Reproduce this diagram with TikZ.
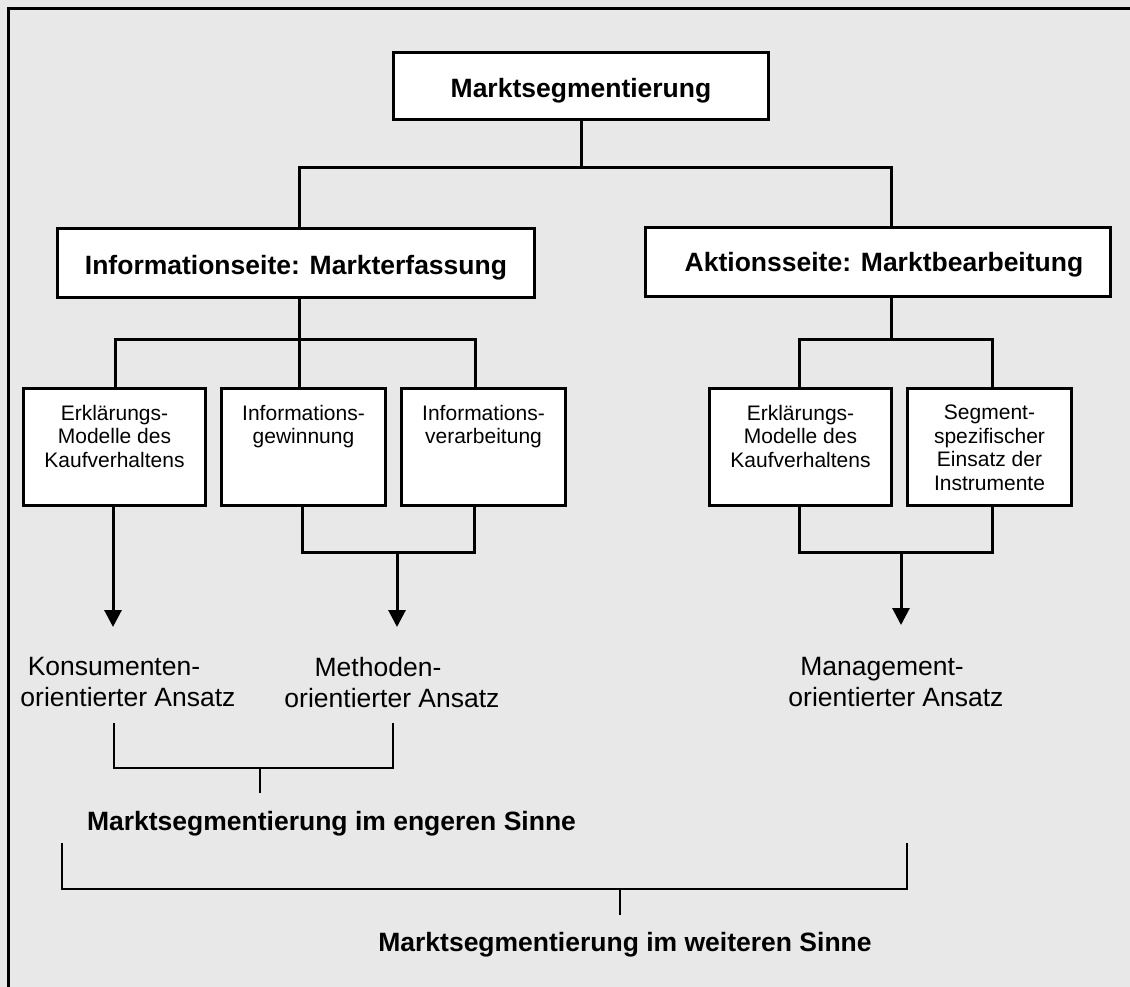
\documentclass[tikz,border=0pt]{standalone}
\usepackage{fontspec}
\setmainfont{Liberation Sans}
\usetikzlibrary{arrows.meta}
\definecolor{panel}{HTML}{E8E8E8}
\begin{document}
\begin{tikzpicture}[x=1pt,y=-1pt,
  box/.style={draw, line width=3pt, fill=white, inner sep=0pt},
  conn/.style={line width=3pt},
  brk/.style={line width=2.5pt},
  arr/.style={line width=3pt, -{Triangle[width=17pt,length=17pt]}},
  headtext/.style={font=\fontsize{26.5}{31}\selectfont\bfseries, inner sep=0pt},
  boxtext/.style={font=\fontsize{21}{23.5}\selectfont, align=center, inner sep=0pt, anchor=north},
  apptext/.style={font=\fontsize{26.5}{31}\selectfont, align=center, inner sep=0pt, anchor=north},
]
\useasboundingbox (0,0) rectangle (1130,987);
\fill[panel] (0,0) rectangle (1130,987);
\draw[line width=3pt] (8.5,987) -- (8.5,8.5) -- (1130,8.5);

% top level
\node[box, minimum width=375pt, minimum height=67pt] (top) at (581,86) {};
\node[headtext, anchor=base] (toptxt) at (581,98) {Marktsegmentierung};

% second level
\node[box, minimum width=477pt, minimum height=69pt] (info) at (296,263) {};
\node[headtext, anchor=base] (infotxt) at (296,274) {Informationseite: Markterfassung};
\node[box, minimum width=465pt, minimum height=69pt] (akt) at (878,262) {};
\node[headtext, anchor=base] (akttxt) at (884,272) {Aktionsseite: Marktbearbeitung};

% third level
\node[box, minimum width=182pt, minimum height=117pt] (A) at (114.5,447) {};
\node[box, minimum width=164pt, minimum height=117pt] (B) at (303.5,447) {};
\node[box, minimum width=164pt, minimum height=117pt] (C) at (483.5,447) {};
\node[box, minimum width=182pt, minimum height=117pt] (D) at (800.5,447) {};
\node[box, minimum width=164pt, minimum height=117pt] (E) at (989.5,447) {};
\node[boxtext] (Atxt) at (114.5,405) {Erklärungs-\\Modelle des\\Kaufverhaltens};
\node[boxtext] (Btxt) at (303.5,405) {Informations-\\gewinnung};
\node[boxtext] (Ctxt) at (483.5,405) {Informations-\\verarbeitung};
\node[boxtext] (Dtxt) at (800.5,405) {Erklärungs-\\Modelle des\\Kaufverhaltens};
\node[boxtext] (Etxt) at (989.5,405) {Segment-\\spezifischer\\Einsatz der\\Instrumente};

% approaches
\node[apptext] (kons) at (128,657) {Konsumenten-\hspace*{28pt}\\orientierter Ansatz};
\node[apptext] (meth) at (392,657) {Methoden-\hspace*{28pt}\\orientierter Ansatz};
\node[apptext] (mgmt) at (896,657) {Management-\hspace*{28pt}\\orientierter Ansatz};

% summary labels
\node[headtext, anchor=base] (eng) at (331.5,830) {Marktsegmentierung im engeren Sinne};
\node[headtext, anchor=base] (wei) at (625,951) {Marktsegmentierung im weiteren Sinne};

% junction points
\coordinate (jl) at (299,168);
\coordinate (jr) at (891,168);
\coordinate (ia) at (299,339);
\coordinate (ga) at (115,339);
\coordinate (gc) at (475,339);
\coordinate (ra) at (891,339);
\coordinate (gd) at (799,339);
\coordinate (ge) at (992,339);
\coordinate (mb) at (302,552);
\coordinate (mc) at (474,552);
\coordinate (mm) at (397,552);
\coordinate (mt) at (397,627);
\coordinate (ka) at (113,627);
\coordinate (nd) at (799,552);
\coordinate (ne) at (992,552);
\coordinate (nm) at (901,552);
\coordinate (nt) at (901,625);

% tree connectors
\draw[conn] (top.south) -- (top.south |- jl);
\draw[conn] (info.north -| jl) -- (jl) -- (jr) -- (akt.north -| jr);
\draw[conn] (info.south -| ia) -- (ia);
\draw[conn] (A.north -| ga) -- (ga) -- (gc) -- (C.north -| gc);
\draw[conn] (B.north -| ia) -- (ia);
\draw[conn] (akt.south -| ra) -- (ra);
\draw[conn] (D.north -| gd) -- (gd) -- (ge) -- (E.north -| ge);

% lower connectors and arrows
\draw[arr] (A.south -| ka) -- (ka);
\draw[conn] (B.south -| mb) -- (mb) -- (mc) -- (C.south -| mc);
\draw[arr] (mm) -- (mt);
\draw[conn] (D.south -| nd) -- (nd) -- (ne) -- (E.south -| ne);
\draw[arr] (nm) -- (nt);

% brackets
\coordinate (b1l) at (114,723);
\coordinate (b1r) at (393,723);
\coordinate (b1h) at (260,768);
\coordinate (b1s) at (260,793);
\draw[brk] (b1l) -- (b1l |- b1h) -- (b1r |- b1h) -- (b1r);
\draw[brk] (b1h) -- (b1s);
\coordinate (b2l) at (62,843);
\coordinate (b2r) at (907,843);
\coordinate (b2h) at (620,889);
\coordinate (b2s) at (620,915);
\draw[brk] (b2l) -- (b2l |- b2h) -- (b2r |- b2h) -- (b2r);
\draw[brk] (b2h) -- (b2s);
\end{tikzpicture}
\end{document}
